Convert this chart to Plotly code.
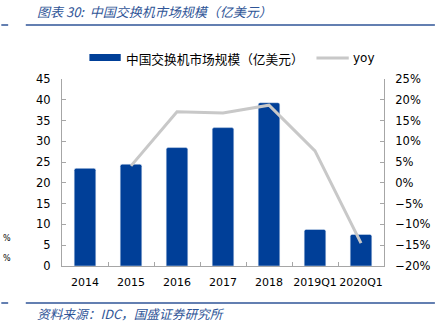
import plotly.graph_objects as go

categories = ["2014", "2015", "2016", "2017", "2018", "2019Q1", "2020Q1"]
market_size = [23.5, 24.5, 28.5, 33.3, 39.3, 8.8, 7.6]
yoy = [None, 0.041, 0.171, 0.168, 0.187, 0.077, -0.145]

title_text = "图表 30:  中国交换机市场规模（亿美元）"
source_text = "资料来源：IDC，国盛证券研究所"
bar_name = "中国交换机市场规模（亿美元）"
line_name = "yoy"

BLUE = "#003F98"
GREY = "#C8C8C8"
AXIS = "#A6A6A6"
TXT_BLUE = "#2F5597"

fig = go.Figure()
fig.add_trace(go.Bar(x=categories, y=market_size, marker_color=BLUE, name=bar_name,
                     showlegend=False, width=0.47))
fig.add_trace(go.Scatter(x=categories, y=yoy, yaxis="y2", mode="lines", name=line_name,
                         line=dict(color=GREY, width=3), showlegend=False))

W, H = 443, 333
L, R, T, B = 62, 52, 79, 67
PW, PH = W - L - R, H - T - B

def fx(x):
    return (x - L) / PW

def fy(y):
    return (H - y - B) / PH

def hline(x0, x1, y, color, width):
    return dict(type="line", xref="paper", yref="paper", x0=fx(x0), x1=fx(x1),
                y0=fy(y), y1=fy(y), line=dict(color=color, width=width))

shapes = [
    hline(25, 443, 25, TXT_BLUE, 1.5),
    hline(0, 7, 25, TXT_BLUE, 1.5),
    hline(25, 443, 303, TXT_BLUE, 1.5),
    hline(0, 7, 303, TXT_BLUE, 1.5),
    dict(type="rect", xref="paper", yref="paper", x0=fx(90), x1=fx(122),
         y0=fy(61), y1=fy(54), fillcolor=BLUE, line=dict(width=0)),
    hline(322, 355, 58, GREY, 3),
]

def ann(text, x, y, size, color, xanchor="left", italic=False, family="Noto Sans CJK SC"):
    return dict(text=text, xref="paper", yref="paper",
                x=fx(x), y=fy(y),
                xanchor=xanchor, yanchor="middle", showarrow=False,
                font=dict(size=size, color=color, family=family,
                          style="italic" if italic else "normal"))

annotations = [
    ann(title_text, 34, 12, 13, TXT_BLUE, italic=True),
    ann(source_text, 34, 313, 12.7, TXT_BLUE, italic=True),
    ann(bar_name, 125, 58, 12.7, "#000000"),
    ann(line_name, 357, 58, 12, "#000000", family="DejaVu Sans"),
    ann("%", 0, 238, 8, "#000000", family="DejaVu Sans"),
    ann("%", 0, 258, 8, "#000000", family="DejaVu Sans"),
]

fig.update_layout(
    width=W, height=H,
    margin=dict(l=L, r=R, t=T, b=B, pad=0),
    paper_bgcolor="white", plot_bgcolor="white",
    bargap=0.53,
    font=dict(family="DejaVu Sans", size=11.5, color="#000000"),
    xaxis=dict(showline=True, linecolor=AXIS, linewidth=1, ticks="inside", ticklen=4,
               tickcolor=AXIS, tickson="boundaries", showgrid=False, tickangle=0,
               tickfont=dict(size=11), ticklabelstandoff=6),
    yaxis=dict(range=[0, 45], dtick=5, showline=True, linecolor=AXIS, linewidth=1,
               ticks="inside", ticklen=4, tickcolor=AXIS, showgrid=False, zeroline=False,
               ticklabelstandoff=8),
    yaxis2=dict(range=[-0.2, 0.25], dtick=0.05, tickformat=".0%", overlaying="y", side="right",
                showline=True, linecolor=AXIS, linewidth=1, ticks="inside", ticklen=4,
                tickcolor=AXIS, showgrid=False, zeroline=False, ticklabelstandoff=8),
    shapes=shapes,
    annotations=annotations,
    showlegend=False,
    barcornerradius=2,
)

fig.write_html("out.html")
